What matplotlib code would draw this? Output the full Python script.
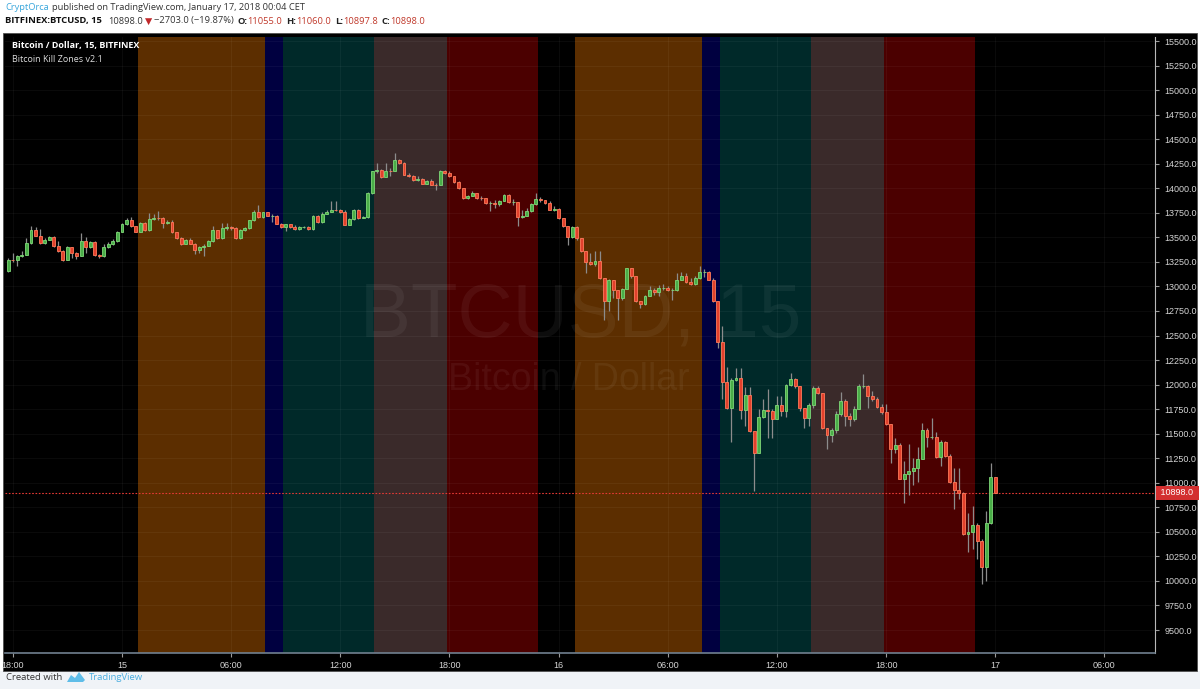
import numpy as np
import matplotlib.pyplot as plt
from matplotlib.patches import Rectangle, Polygon
from matplotlib.ticker import FormatStrFormatter
from matplotlib.transforms import blended_transform_factory

plt.rcParams['font.family'] = ['Liberation Sans', 'DejaVu Sans']

W, H = 1200, 689

# BITFINEX:BTCUSD 15 min candles, Jan 14 17:45 -> Jan 17 00:00 (CET)
# time axis is hours counted from Jan 15 00:00
first_open = 13154
closes = [
    13273, 13266, 13313, 13323, 13442, 13578, 13517, 13442, 13476, 13503,
    13408, 13364, 13266, 13398, 13340, 13313, 13459, 13401, 13449, 13320,
    13307, 13401, 13435, 13466, 13551, 13635, 13679, 13612, 13557, 13646,
    13571, 13686, 13700, 13693, 13646, 13659, 13551, 13493, 13435, 13476,
    13435, 13374, 13401, 13415, 13459, 13571, 13493, 13595, 13605, 13595,
    13493, 13578, 13595, 13673, 13754, 13707, 13754, 13720, 13720, 13639,
    13605, 13632, 13605, 13585, 13605, 13605, 13585, 13720, 13652, 13740,
    13757, 13781, 13774, 13754, 13628, 13686, 13781, 13696, 13707, 13951,
    14171, 14190, 14113, 14181, 14178, 14283, 14256, 14140, 14127, 14086,
    14093, 14046, 14079, 14035, 14032, 14178, 14154, 14120, 14059, 14001,
    13900, 13923, 13951, 13900, 13896, 13849, 13849, 13835, 13873, 13934,
    13856, 13856, 13707, 13720, 13764, 13839, 13890, 13876, 13849, 13781,
    13788, 13696, 13612, 13503, 13605, 13490, 13357, 13245, 13232, 13256,
    13086, 12849, 13069, 12968, 12883, 12974, 13184, 13103, 12849, 12825,
    12907, 12961, 12940, 12985, 12985, 12961, 12961, 13069, 13110, 13042,
    13029, 13086, 13144, 13144, 13070, 12849, 12432, 12025, 11764, 12046,
    12070, 11741, 11890, 11527, 11307, 11673, 11741, 11731, 11653, 11788,
    11731, 11992, 12059, 11985, 11764, 11663, 11788, 11964, 11910, 11561,
    11483, 11537, 11697, 11832, 11680, 11653, 11754, 11985, 11985, 11883,
    11849, 11775, 11720, 11595, 11341, 11388, 11042, 11087, 11120, 11151,
    11246, 11534, 11470, 11470, 11266, 11415, 11273, 11008, 10927, 10900,
    10476, 10500, 10568, 10409, 10147, 10595, 11055, 10898,
]
highs = [
    13290, 13340, 13323, 13357, 13493, 13618, 13605, 13585, 13490, 13517,
    13510, 13459, 13374, 13408, 13401, 13347, 13544, 13503, 13459, 13462,
    13327, 13435, 13449, 13483, 13561, 13646, 13693, 13707, 13618, 13652,
    13652, 13747, 13740, 13764, 13707, 13679, 13673, 13551, 13500, 13483,
    13490, 13442, 13415, 13428, 13476, 13612, 13578, 13646, 13646, 13618,
    13605, 13585, 13605, 13679, 13781, 13829, 13761, 13761, 13740, 13727,
    13646, 13639, 13639, 13625, 13618, 13618, 13618, 13727, 13727, 13754,
    13774, 13866, 13866, 13788, 13781, 13693, 13788, 13788, 13720, 13957,
    14181, 14255, 14195, 14256, 14205, 14357, 14296, 14263, 14154, 14137,
    14120, 14107, 14086, 14093, 14052, 14188, 14188, 14174, 14120, 14073,
    14001, 13934, 13968, 13951, 13923, 13900, 13866, 13883, 13883, 13944,
    13944, 13890, 13856, 13781, 13798, 13849, 13951, 13910, 13883, 13866,
    13815, 13798, 13696, 13618, 13618, 13618, 13490, 13357, 13340, 13357,
    13357, 13086, 13076, 13069, 12968, 12985, 13191, 13191, 13103, 12849,
    12915, 13001, 12985, 13018, 13029, 13001, 12981, 13137, 13144, 13137,
    13086, 13103, 13212, 13178, 13154, 13083, 12849, 12595, 12181, 12070,
    12171, 12171, 11978, 11978, 11527, 11748, 11849, 11958, 11748, 11883,
    11883, 12002, 12114, 12070, 11985, 11764, 11815, 11985, 11985, 11910,
    11561, 11561, 11731, 11924, 11849, 11714, 11781, 12002, 12103, 11992,
    11934, 11876, 11798, 11798, 11595, 11459, 11402, 11222, 11392, 11256,
    11368, 11612, 11561, 11663, 11517, 11436, 11425, 11290, 11154, 11154,
    10907, 10697, 10764, 10595, 10426, 10713, 11205, 11060,
]
lows = [
    13144, 13245, 13205, 13300, 13320, 13435, 13510, 13435, 13435, 13469,
    13401, 13354, 13259, 13266, 13290, 13279, 13307, 13340, 13395, 13307,
    13290, 13300, 13391, 13425, 13456, 13551, 13625, 13605, 13551, 13551,
    13564, 13564, 13679, 13679, 13591, 13639, 13544, 13483, 13425, 13428,
    13428, 13334, 13340, 13313, 13408, 13456, 13486, 13486, 13578, 13571,
    13486, 13486, 13564, 13585, 13662, 13700, 13700, 13713, 13652, 13632,
    13598, 13561, 13598, 13578, 13578, 13591, 13578, 13578, 13646, 13646,
    13734, 13754, 13764, 13747, 13622, 13628, 13679, 13690, 13693, 13700,
    13944, 14160, 14103, 14113, 14120, 14171, 14249, 14134, 14113, 14079,
    14079, 14039, 14039, 14029, 13978, 14029, 14147, 14113, 14052, 13991,
    13893, 13890, 13917, 13890, 13883, 13842, 13764, 13798, 13822, 13866,
    13849, 13832, 13618, 13693, 13713, 13754, 13832, 13862, 13835, 13774,
    13764, 13686, 13605, 13425, 13490, 13476, 13347, 13137, 13222, 13205,
    13076, 12662, 12747, 12883, 12662, 12866, 12974, 13086, 12839, 12781,
    12815, 12900, 12917, 12900, 12968, 12951, 12866, 12951, 13062, 13035,
    13015, 13015, 13076, 13097, 13063, 12839, 12375, 11849, 11754, 11415,
    12036, 11653, 11578, 11517, 10917, 11300, 11663, 11459, 11459, 11646,
    11680, 11673, 11985, 11968, 11731, 11561, 11578, 11764, 11900, 11551,
    11341, 11415, 11510, 11680, 11578, 11578, 11629, 11748, 11968, 11764,
    11832, 11764, 11697, 11585, 11198, 11307, 11036, 10798, 10873, 10975,
    11008, 11239, 11368, 11442, 11256, 11171, 11266, 11002, 10737, 10832,
    10466, 10290, 10324, 10222, 9968, 10002, 10585, 10898,
]
# continuous market: each candle opens where the previous one closed
opens = [first_open] + closes[:-1]
first_hour = -6.25
bar_hours = first_hour + 0.25 * np.arange(len(closes))
last_price = 10898.0

# kill zones, hour of day (CET), repeated on Jan 15 and Jan 16
zone_days = [0, 24]
zone_start = [1, 8, 9, 14, 18]
zone_end = [8, 9, 14, 18, 23]
zone_colors = ['#5c2e00', '#000040', '#002929', '#3a2a2a', '#4b0000']

xtick_hours = [-6, 0, 6, 12, 18, 24, 30, 36, 42, 48, 54]
xtick_labels = ['18:00', '15', '06:00', '12:00', '18:00', '16',
                '06:00', '12:00', '18:00', '17', '06:00']

fig = plt.figure(figsize=(W / 100, H / 100), dpi=100, facecolor='white')


def px_rect(x0, y0, x1, y1, **kw):
    fig.add_artist(Rectangle((x0 / W, 1 - y1 / H), (x1 - x0) / W, (y1 - y0) / H,
                             transform=fig.transFigure, zorder=-5, **kw))


# footer band and black chart panel
px_rect(0, 671, W, H, facecolor='#f0f3f7', edgecolor='none')
px_rect(3, 33, 1197, 671, facecolor='black', edgecolor='#505050', lw=0.6)

ax = fig.add_axes([5 / W, 1 - 653 / H, (1155 - 5) / W, (653 - 37) / H])
ax.set_facecolor('black')
ax.set_xlim(-6.43, 56.78)
ax.set_ylim(9266, 15541)

for d in zone_days:
    for s, e, c in zip(zone_start, zone_end, zone_colors):
        ax.axvspan(d + s - 0.125, d + e - 0.125, color=c, lw=0, zorder=0)

# grid
yt = np.arange(9500, 15501, 250)
for v in yt:
    ax.axhline(v, color='white', alpha=0.045, lw=0.8, zorder=0.5)
for h in xtick_hours:
    ax.axvline(h, color='white', alpha=0.045, lw=0.8, zorder=0.5)

# watermark
ax.text(0.5004, 0.546, 'BTCUSD, 15', transform=ax.transAxes, ha='center', va='center',
        fontsize=55, color='white', alpha=0.055, zorder=1)
ax.text(0.49, 0.443, 'Bitcoin / Dollar', transform=ax.transAxes, ha='center', va='center',
        fontsize=27, color='white', alpha=0.055, zorder=1)

# candles
o = np.array(opens, dtype=float)
c = np.array(closes, dtype=float)
up = c >= o
lo = np.minimum(o, c)
hgt = np.abs(c - o)
ax.vlines(bar_hours, lows, highs, color='#8c8c8c', lw=0.9, zorder=3)
ax.bar(bar_hours[up], hgt[up], bottom=lo[up], width=0.16, color='#4aae48',
       edgecolor='#7fd878', lw=0.6, zorder=4)
ax.bar(bar_hours[~up], hgt[~up], bottom=lo[~up], width=0.16, color='#e2402c',
       edgecolor='#ff7a5a', lw=0.6, zorder=4)

# last price line and tag
ax.axhline(last_price, color='#e53935', lw=0.8, ls=(0, (1.5, 1.5)), zorder=2)
tr = blended_transform_factory(ax.transAxes, ax.transData)
ax.text(1.003, last_price, ' %.1f ' % last_price, transform=tr, ha='left', va='center',
        color='white', fontsize=6.5, zorder=10, clip_on=False,
        bbox=dict(boxstyle='square,pad=0.3', fc='#d32f2f', ec='none'))

# axes
ax.yaxis.tick_right()
ax.set_yticks(yt)
ax.yaxis.set_major_formatter(FormatStrFormatter('%.1f'))
ax.set_xticks(xtick_hours)
ax.set_xticklabels(xtick_labels)
ax.tick_params(axis='both', colors='#9a9a9a', labelcolor='#d4d4d4', labelsize=6.5,
               length=3, width=0.8)
ax.tick_params(axis='y', pad=4)
ax.tick_params(axis='x', pad=3)
for side in ['top', 'left']:
    ax.spines[side].set_visible(False)
ax.spines['right'].set_color('#b8b8b8')
ax.spines['bottom'].set_color('#70808f')
ax.spines['bottom'].set_linewidth(1.2)

# chart legend inside the panel
hdr_font = ['Open Sans', 'DejaVu Sans']
ax.text(0.006, 0.986, 'Bitcoin / Dollar, 15, BITFINEX', transform=ax.transAxes,
        ha='left', va='center', color='white', fontsize=6.5, fontweight='bold',
        family=hdr_font, zorder=10)
ax.text(0.006, 0.964, 'Bitcoin Kill Zones v2.1', transform=ax.transAxes,
        ha='left', va='center', color='#dddddd', fontsize=6.5,
        family=hdr_font, zorder=10)

# header rows made of coloured pieces
renderer = fig.canvas.get_renderer()


def text_row(pieces, x, y, size):
    for s, col, wt, gap in pieces:
        t = fig.text(x / W, 1 - y / H, s, color=col, fontsize=size, fontweight=wt,
                     family=hdr_font, ha='left', va='center')
        x += t.get_window_extent(renderer).width + gap


text_row([('CryptOrca', '#3aa7dc', 'normal', 3),
          ('published on TradingView.com, January 17, 2018 00:04 CET', '#333333', 'normal', 0)],
         5, 8, 6.65)
text_row([('BITFINEX:BTCUSD, 15', '#111111', 'bold', 6),
          ('10898.0', '#333333', 'normal', 2),
          ('\u25bc', '#c0282a', 'normal', 2),
          ('\u22122703.0 (\u221219.87%)', '#333333', 'normal', 4),
          ('O:', '#222222', 'bold', 0), ('11055.0', '#c0392b', 'normal', 4),
          ('H:', '#222222', 'bold', 0), ('11060.0', '#c0392b', 'normal', 4),
          ('L:', '#222222', 'bold', 0), ('10897.8', '#c0392b', 'normal', 4),
          ('C:', '#222222', 'bold', 0), ('10898.0', '#c0392b', 'normal', 0)],
         5, 21, 6.75)

# footer
fig.text(6 / W, 1 - 677 / H, 'Created with', color='#333333', fontsize=6.8,
         family=hdr_font, ha='left', va='center')
logo = [(67, 682), (71, 675), (75, 678), (79, 672), (85, 680), (83, 682)]
fig.add_artist(Polygon([(px / W, 1 - py / H) for px, py in logo], closed=True,
                       transform=fig.transFigure, fc='#5fbde8', ec='none'))
fig.text(89 / W, 1 - 677 / H, 'TradingView', color='#4aaee0', fontsize=6.8,
         family=hdr_font, ha='left', va='center')

fig.savefig('out.png', dpi=100, facecolor=fig.get_facecolor())
